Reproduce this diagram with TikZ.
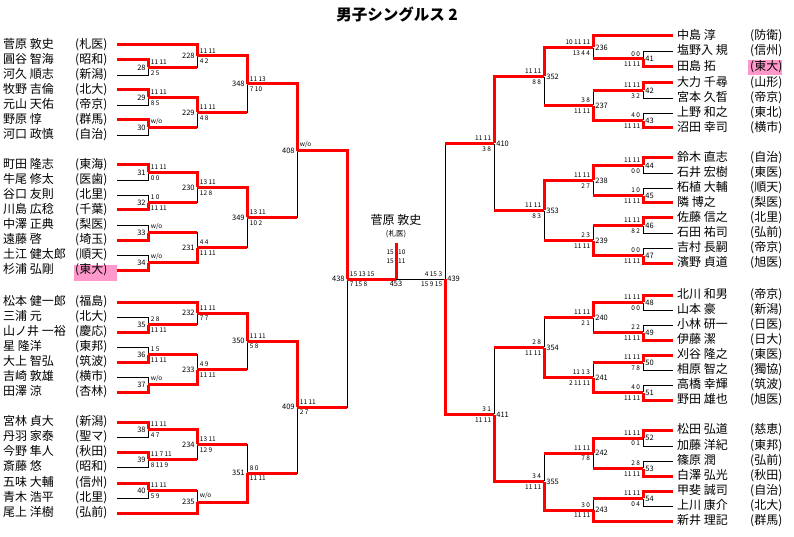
\documentclass[tikz,border=0pt]{standalone}
\usepackage{fontspec}
\setmainfont{Noto Sans CJK JP}
\usepackage{tikz}
\definecolor{brred}{RGB}{255,0,0}
\definecolor{hlpink}{RGB}{255,153,204}

\begin{document}
\begin{tikzpicture}[x=1pt,y=-1pt,
	win/.style={brred,line width=3pt},
	lose/.style={black,line width=0.9pt},
	lp/.style={anchor=west,inner sep=0pt,font=\fontsize{12}{12}\selectfont},
	mt/.style={inner sep=0pt,minimum size=0pt},
	mno/.style={font=\fontsize{7.5}{7.5}\selectfont,inner sep=2pt},
	sc/.style={font=\fontsize{6.5}{6.5}\selectfont,inner sep=2.5pt},
	hlbox/.style={fill=hlpink,inner sep=0pt}]
	\useasboundingbox (0,0) rectangle (794,537);
	\node[font=\fontsize{15.5}{15.5}\selectfont\bfseries] (title) at (397,14) {男子シングルス 2};
	\node[hlbox,minimum width=43pt,minimum height=16pt] (hl1) at (95.5,273) {};
	\node[hlbox,minimum width=34pt,minimum height=15pt] (hl2) at (765,68) {};
	% left players
	\node[lp] (p01) at (3,45) {\makebox[114pt][l]{\makebox[72pt][l]{菅原 敦史}(札医)}};
	\node[lp] (p02) at (3,60) {\makebox[114pt][l]{\makebox[72pt][l]{圓谷 智海}(昭和)}};
	\node[lp] (p03) at (3,75) {\makebox[114pt][l]{\makebox[72pt][l]{河久 順志}(新潟)}};
	\node[lp] (p04) at (3,90) {\makebox[114pt][l]{\makebox[72pt][l]{牧野 吉倫}(北大)}};
	\node[lp] (p05) at (3,105) {\makebox[114pt][l]{\makebox[72pt][l]{元山 天佑}(帝京)}};
	\node[lp] (p06) at (3,120) {\makebox[114pt][l]{\makebox[72pt][l]{野原 惇}(群馬)}};
	\node[lp] (p07) at (3,135) {\makebox[114pt][l]{\makebox[72pt][l]{河口 政慎}(自治)}};
	\node[lp] (p08) at (3,165) {\makebox[114pt][l]{\makebox[72pt][l]{町田 隆志}(東海)}};
	\node[lp] (p09) at (3,180) {\makebox[114pt][l]{\makebox[72pt][l]{牛尾 修太}(医歯)}};
	\node[lp] (p10) at (3,195) {\makebox[114pt][l]{\makebox[72pt][l]{谷口 友則}(北里)}};
	\node[lp] (p11) at (3,210) {\makebox[114pt][l]{\makebox[72pt][l]{川島 広稔}(千葉)}};
	\node[lp] (p12) at (3,225) {\makebox[114pt][l]{\makebox[72pt][l]{中澤 正典}(梨医)}};
	\node[lp] (p13) at (3,240) {\makebox[114pt][l]{\makebox[72pt][l]{遠藤 啓}(埼玉)}};
	\node[lp] (p14) at (3,255) {\makebox[114pt][l]{\makebox[72pt][l]{土江 健太郎}(順天)}};
	\node[lp] (p15) at (3,270) {\makebox[114pt][l]{\makebox[72pt][l]{杉浦 弘剛}(東大)}};
	\node[lp] (p16) at (3,302) {\makebox[114pt][l]{\makebox[72pt][l]{松本 健一郎}(福島)}};
	\node[lp] (p17) at (3,317) {\makebox[114pt][l]{\makebox[72pt][l]{三浦 元}(北大)}};
	\node[lp] (p18) at (3,332) {\makebox[114pt][l]{\makebox[72pt][l]{山ノ井 一裕}(慶応)}};
	\node[lp] (p19) at (3,347) {\makebox[114pt][l]{\makebox[72pt][l]{星 隆洋}(東邦)}};
	\node[lp] (p20) at (3,362) {\makebox[114pt][l]{\makebox[72pt][l]{大上 智弘}(筑波)}};
	\node[lp] (p21) at (3,377) {\makebox[114pt][l]{\makebox[72pt][l]{吉崎 敦雄}(横市)}};
	\node[lp] (p22) at (3,392) {\makebox[114pt][l]{\makebox[72pt][l]{田澤 涼}(杏林)}};
	\node[lp] (p23) at (3,422) {\makebox[114pt][l]{\makebox[72pt][l]{宮林 貞大}(新潟)}};
	\node[lp] (p24) at (3,437) {\makebox[114pt][l]{\makebox[72pt][l]{丹羽 家泰}(聖マ)}};
	\node[lp] (p25) at (3,452) {\makebox[114pt][l]{\makebox[72pt][l]{今野 隼人}(秋田)}};
	\node[lp] (p26) at (3,467) {\makebox[114pt][l]{\makebox[72pt][l]{斎藤 悠}(昭和)}};
	\node[lp] (p27) at (3,483) {\makebox[114pt][l]{\makebox[72pt][l]{五味 大輔}(信州)}};
	\node[lp] (p28) at (3,498) {\makebox[114pt][l]{\makebox[72pt][l]{青木 浩平}(北里)}};
	\node[lp] (p29) at (3,513) {\makebox[114pt][l]{\makebox[72pt][l]{尾上 洋樹}(弘前)}};
	% right players
	\node[lp] (q01) at (673,36) {\hspace*{4pt}\makebox[73pt][l]{中島 淳}(防衛)};
	\node[lp] (q02) at (673,51) {\hspace*{4pt}\makebox[73pt][l]{塩野入 規}(信州)};
	\node[lp] (q03) at (673,67) {\hspace*{4pt}\makebox[73pt][l]{田島 拓}(東大)};
	\node[lp] (q04) at (673,83) {\hspace*{4pt}\makebox[73pt][l]{大力 千尋}(山形)};
	\node[lp] (q05) at (673,98) {\hspace*{4pt}\makebox[73pt][l]{宮本 久晳}(帝京)};
	\node[lp] (q06) at (673,113) {\hspace*{4pt}\makebox[73pt][l]{上野 和之}(東北)};
	\node[lp] (q07) at (673,128) {\hspace*{4pt}\makebox[73pt][l]{沼田 幸司}(横市)};
	\node[lp] (q08) at (673,158) {\hspace*{4pt}\makebox[73pt][l]{鈴木 直志}(自治)};
	\node[lp] (q09) at (673,173) {\hspace*{4pt}\makebox[73pt][l]{石井 宏樹}(東医)};
	\node[lp] (q10) at (673,188) {\hspace*{4pt}\makebox[73pt][l]{柘植 大輔}(順天)};
	\node[lp] (q11) at (673,203) {\hspace*{4pt}\makebox[73pt][l]{隣 博之}(梨医)};
	\node[lp] (q12) at (673,218) {\hspace*{4pt}\makebox[73pt][l]{佐藤 信之}(北里)};
	\node[lp] (q13) at (673,233) {\hspace*{4pt}\makebox[73pt][l]{石田 祐司}(弘前)};
	\node[lp] (q14) at (673,248) {\hspace*{4pt}\makebox[73pt][l]{吉村 長嗣}(帝京)};
	\node[lp] (q15) at (673,263) {\hspace*{4pt}\makebox[73pt][l]{濱野 貞道}(旭医)};
	\node[lp] (q16) at (673,295) {\hspace*{4pt}\makebox[73pt][l]{北川 和男}(帝京)};
	\node[lp] (q17) at (673,310) {\hspace*{4pt}\makebox[73pt][l]{山本 豪}(新潟)};
	\node[lp] (q18) at (673,325) {\hspace*{4pt}\makebox[73pt][l]{小林 研一}(日医)};
	\node[lp] (q19) at (673,340) {\hspace*{4pt}\makebox[73pt][l]{伊藤 潔}(日大)};
	\node[lp] (q20) at (673,355) {\hspace*{4pt}\makebox[73pt][l]{刈谷 隆之}(東医)};
	\node[lp] (q21) at (673,370) {\hspace*{4pt}\makebox[73pt][l]{相原 智之}(獨協)};
	\node[lp] (q22) at (673,385) {\hspace*{4pt}\makebox[73pt][l]{高橋 幸輝}(筑波)};
	\node[lp] (q23) at (673,400) {\hspace*{4pt}\makebox[73pt][l]{野田 雄也}(旭医)};
	\node[lp] (q24) at (673,430) {\hspace*{4pt}\makebox[73pt][l]{松田 弘道}(慈恵)};
	\node[lp] (q25) at (673,446) {\hspace*{4pt}\makebox[73pt][l]{加藤 洋紀}(東邦)};
	\node[lp] (q26) at (673,461) {\hspace*{4pt}\makebox[73pt][l]{篠原 潤}(弘前)};
	\node[lp] (q27) at (673,476) {\hspace*{4pt}\makebox[73pt][l]{白澤 弘光}(秋田)};
	\node[lp] (q28) at (673,491) {\hspace*{4pt}\makebox[73pt][l]{甲斐 誠司}(自治)};
	\node[lp] (q29) at (673,506) {\hspace*{4pt}\makebox[73pt][l]{上川 康介}(北大)};
	\node[lp] (q30) at (673,521) {\hspace*{4pt}\makebox[73pt][l]{新井 理記}(群馬)};
	% left matches
	\node[mt,label={[mno]left:28},label={[sc]above right:11 11},label={[sc]below right:2 5}] (m28) at (148,67.5) {};
	\node[mt,label={[mno]left:29},label={[sc]above right:11 11},label={[sc]below right:8 5}] (m29) at (148,97.5) {};
	\node[mt,label={[mno]left:30},label={[sc]above right:w/o}] (m30) at (148,127.5) {};
	\node[mt,label={[mno]left:228},label={[sc]above right:11 11},label={[sc]below right:4 2}] (m228) at (197,56) {};
	\node[mt,label={[mno]left:229},label={[sc]above right:11 11},label={[sc]below right:4 8}] (m229) at (197,112.5) {};
	\node[mt,label={[mno]left:348},label={[sc]above right:11 13},label={[sc]below right:7 10}] (m348) at (247,84) {};
	\node[mt,label={[mno]left:31},label={[sc]above right:11 11},label={[sc]below right:0 0}] (m31) at (148,172.5) {};
	\node[mt,label={[mno]left:32},label={[sc]above right:1 0},label={[sc]below right:11 11}] (m32) at (148,202.5) {};
	\node[mt,label={[mno]left:33},label={[sc]above right:w/o}] (m33) at (148,232.5) {};
	\node[mt,label={[mno]left:34},label={[sc]above right:w/o}] (m34) at (148,262.5) {};
	\node[mt,label={[mno]left:230},label={[sc]above right:13 11},label={[sc]below right:12 8}] (m230) at (197,187.5) {};
	\node[mt,label={[mno]left:231},label={[sc]above right:4 4},label={[sc]below right:11 11}] (m231) at (197,247.5) {};
	\node[mt,label={[mno]left:349},label={[sc]above right:13 11},label={[sc]below right:10 2}] (m349) at (247,217.5) {};
	\node[mt,label={[mno]left:408},label={[sc]above right:w/o}] (m408) at (297,151) {};
	\node[mt,label={[mno]left:35},label={[sc]above right:2 8},label={[sc]below right:11 11}] (m35) at (148,324.5) {};
	\node[mt,label={[mno]left:36},label={[sc]above right:1 5},label={[sc]below right:11 11}] (m36) at (148,354.5) {};
	\node[mt,label={[mno]left:37},label={[sc]above right:w/o}] (m37) at (148,384.5) {};
	\node[mt,label={[mno]left:232},label={[sc]above right:11 11},label={[sc]below right:7 7}] (m232) at (197,313) {};
	\node[mt,label={[mno]left:233},label={[sc]above right:4 9},label={[sc]below right:11 11}] (m233) at (197,369.5) {};
	\node[mt,label={[mno]left:350},label={[sc]above right:11 11},label={[sc]below right:5 8}] (m350) at (247,341) {};
	\node[mt,label={[mno]left:38},label={[sc]above right:11 11},label={[sc]below right:4 7}] (m38) at (148,429.5) {};
	\node[mt,label={[mno]left:39},label={[sc]above right:11 7 11},label={[sc]below right:8 11 9}] (m39) at (148,459.5) {};
	\node[mt,label={[mno]left:40},label={[sc]above right:11 11},label={[sc]below right:5 9}] (m40) at (148,490.5) {};
	\node[mt,label={[mno]left:234},label={[sc]above right:13 11},label={[sc]below right:12 9}] (m234) at (197,444.5) {};
	\node[mt,label={[mno]left:235},label={[sc]above right:w/o}] (m235) at (197,502) {};
	\node[mt,label={[mno]left:351},label={[sc]above right:8 0},label={[sc]below right:11 11}] (m351) at (247,473) {};
	\node[mt,label={[mno]left:409},label={[sc]above right:11 11},label={[sc]below right:2 7}] (m409) at (297,407) {};
	\node[mt,label={[mno]left:438},label={[sc]above right:15 13 15},label={[sc]below right:7 15 8}] (m438) at (347,279) {};
	% right matches
	\node[mt,label={[mno]right:41},label={[sc]above left:0 0},label={[sc]below left:11 11}] (m41) at (643,59) {};
	\node[mt,label={[mno]right:42},label={[sc]above left:11 11},label={[sc]below left:3 2}] (m42) at (643,90.5) {};
	\node[mt,label={[mno]right:43},label={[sc]above left:4 0},label={[sc]below left:11 11}] (m43) at (643,120.5) {};
	\node[mt,label={[mno]right:236},label={[sc]above left:10 11 11},label={[sc]below left:13 4 4}] (m236) at (593,47.5) {};
	\node[mt,label={[mno]right:237},label={[sc]above left:3 8},label={[sc]below left:11 11}] (m237) at (593,105.5) {};
	\node[mt,label={[mno]right:352},label={[sc]above left:11 11},label={[sc]below left:8 8}] (m352) at (544,76.5) {};
	\node[mt,label={[mno]right:44},label={[sc]above left:11 11},label={[sc]below left:0 0}] (m44) at (643,165.5) {};
	\node[mt,label={[mno]right:45},label={[sc]above left:1 0},label={[sc]below left:11 11}] (m45) at (643,195.5) {};
	\node[mt,label={[mno]right:46},label={[sc]above left:11 11},label={[sc]below left:8 2}] (m46) at (643,225.5) {};
	\node[mt,label={[mno]right:47},label={[sc]above left:0 0},label={[sc]below left:11 11}] (m47) at (643,255.5) {};
	\node[mt,label={[mno]right:238},label={[sc]above left:11 11},label={[sc]below left:2 7}] (m238) at (593,180.5) {};
	\node[mt,label={[mno]right:239},label={[sc]above left:2 3},label={[sc]below left:11 11}] (m239) at (593,240.5) {};
	\node[mt,label={[mno]right:353},label={[sc]above left:11 11},label={[sc]below left:8 3}] (m353) at (544,210.5) {};
	\node[mt,label={[mno]right:410},label={[sc]above left:11 11},label={[sc]below left:3 8}] (m410) at (494,143.5) {};
	\node[mt,label={[mno]right:48},label={[sc]above left:11 11},label={[sc]below left:0 0}] (m48) at (643,302.5) {};
	\node[mt,label={[mno]right:49},label={[sc]above left:2 2},label={[sc]below left:11 11}] (m49) at (643,332.5) {};
	\node[mt,label={[mno]right:50},label={[sc]above left:11 11},label={[sc]below left:7 8}] (m50) at (643,362.5) {};
	\node[mt,label={[mno]right:51},label={[sc]above left:4 0},label={[sc]below left:11 11}] (m51) at (643,392.5) {};
	\node[mt,label={[mno]right:240},label={[sc]above left:11 11},label={[sc]below left:2 1}] (m240) at (593,317.5) {};
	\node[mt,label={[mno]right:241},label={[sc]above left:11 1 3},label={[sc]below left:2 11 11}] (m241) at (593,377.5) {};
	\node[mt,label={[mno]right:354},label={[sc]above left:2 8},label={[sc]below left:11 11}] (m354) at (544,347.5) {};
	\node[mt,label={[mno]right:52},label={[sc]above left:11 11},label={[sc]below left:0 1}] (m52) at (643,438) {};
	\node[mt,label={[mno]right:53},label={[sc]above left:2 8},label={[sc]below left:11 11}] (m53) at (643,468.5) {};
	\node[mt,label={[mno]right:54},label={[sc]above left:11 11},label={[sc]below left:0 4}] (m54) at (643,498.5) {};
	\node[mt,label={[mno]right:242},label={[sc]above left:11 11},label={[sc]below left:7 8}] (m242) at (593,453) {};
	\node[mt,label={[mno]right:243},label={[sc]above left:3 0},label={[sc]below left:11 11}] (m243) at (593,510) {};
	\node[mt,label={[mno]right:355},label={[sc]above left:3 4},label={[sc]below left:11 11}] (m355) at (544,481.5) {};
	\node[mt,label={[mno]right:411},label={[sc]above left:3 1},label={[sc]below left:11 11}] (m411) at (494,414.5) {};
	\node[mt,label={[mno]right:439},label={[sc]above left:4 15 3},label={[sc]below left:15 9 15}] (m439) at (445,279) {};
	% final
	\node[mt,label={[mno]below:453}] (m453) at (396,279) {};
	\coordinate (crown) at (396,243);
	\node[lp,anchor=center] (champ) at (396,220) {菅原 敦史};
	\node[mno] (champaff) at (396,234) {(札医)};
	\node[sc,anchor=east,inner sep=1pt] (fs1) at (395,252) {15};
	\node[sc,anchor=west,inner sep=1pt] (fs2) at (397,252) {10};
	\node[sc,anchor=east,inner sep=1pt] (fs3) at (395,261) {15};
	\node[sc,anchor=west,inner sep=1pt] (fs4) at (397,261) {11};
	% losing arms
	\draw[lose] (p03.east) -| (m28);
	\draw[lose] (p05.east) -| (m29);
	\draw[lose] (p07.east) -| (m30);
	\draw[lose] (m28) -| (m228);
	\draw[lose] (m30) -| (m229);
	\draw[lose] (m229) -| (m348);
	\draw[lose] (p09.east) -| (m31);
	\draw[lose] (p10.east) -| (m32);
	\draw[lose] (p12.east) -| (m33);
	\draw[lose] (p14.east) -| (m34);
	\draw[lose] (m32) -| (m230);
	\draw[lose] (m33) -| (m231);
	\draw[lose] (m231) -| (m349);
	\draw[lose] (m349) -| (m408);
	\draw[lose] (p17.east) -| (m35);
	\draw[lose] (m35) -| (m232);
	\draw[lose] (p19.east) -| (m36);
	\draw[lose] (p21.east) -| (m37);
	\draw[lose] (m36) -| (m233);
	\draw[lose] (m233) -| (m350);
	\draw[lose] (p24.east) -| (m38);
	\draw[lose] (p26.east) -| (m39);
	\draw[lose] (p28.east) -| (m40);
	\draw[lose] (m39) -| (m234);
	\draw[lose] (m40) -| (m235);
	\draw[lose] (m234) -| (m351);
	\draw[lose] (m351) -| (m409);
	\draw[lose] (m409) -| (m438);
	\draw[lose] (q02.west) -| (m41);
	\draw[lose] (m41) -| (m236);
	\draw[lose] (q05.west) -| (m42);
	\draw[lose] (q06.west) -| (m43);
	\draw[lose] (m42) -| (m237);
	\draw[lose] (m237) -| (m352);
	\draw[lose] (q09.west) -| (m44);
	\draw[lose] (q10.west) -| (m45);
	\draw[lose] (m45) -| (m238);
	\draw[lose] (q13.west) -| (m46);
	\draw[lose] (q14.west) -| (m47);
	\draw[lose] (m46) -| (m239);
	\draw[lose] (m239) -| (m353);
	\draw[lose] (m353) -| (m410);
	\draw[lose] (q17.west) -| (m48);
	\draw[lose] (q18.west) -| (m49);
	\draw[lose] (m49) -| (m240);
	\draw[lose] (q21.west) -| (m50);
	\draw[lose] (q22.west) -| (m51);
	\draw[lose] (m50) -| (m241);
	\draw[lose] (m240) -| (m354);
	\draw[lose] (q25.west) -| (m52);
	\draw[lose] (q26.west) -| (m53);
	\draw[lose] (m53) -| (m242);
	\draw[lose] (q29.west) -| (m54);
	\draw[lose] (m54) -| (m243);
	\draw[lose] (m242) -| (m355);
	\draw[lose] (m354) -| (m411);
	\draw[lose] (m410) -| (m439);
	\draw[lose] (m439) -- (m453);
	% outputs of beaten winners
	\draw[win] (m28) -- (m28 -| m228);
	\draw[win] (m30) -- (m30 -| m229);
	\draw[win] (m229) -- (m229 -| m348);
	\draw[win] (m32) -- (m32 -| m230);
	\draw[win] (m33) -- (m33 -| m231);
	\draw[win] (m231) -- (m231 -| m349);
	\draw[win] (m349) -- (m349 -| m408);
	\draw[win] (m35) -- (m35 -| m232);
	\draw[win] (m36) -- (m36 -| m233);
	\draw[win] (m233) -- (m233 -| m350);
	\draw[win] (m39) -- (m39 -| m234);
	\draw[win] (m40) -- (m40 -| m235);
	\draw[win] (m234) -- (m234 -| m351);
	\draw[win] (m351) -- (m351 -| m409);
	\draw[win] (m409) -- (m409 -| m438);
	\draw[win] (m41) -- (m41 -| m236);
	\draw[win] (m42) -- (m42 -| m237);
	\draw[win] (m237) -- (m237 -| m352);
	\draw[win] (m45) -- (m45 -| m238);
	\draw[win] (m46) -- (m46 -| m239);
	\draw[win] (m239) -- (m239 -| m353);
	\draw[win] (m353) -- (m353 -| m410);
	\draw[win] (m49) -- (m49 -| m240);
	\draw[win] (m50) -- (m50 -| m241);
	\draw[win] (m240) -- (m240 -| m354);
	\draw[win] (m53) -- (m53 -| m242);
	\draw[win] (m54) -- (m54 -| m243);
	\draw[win] (m242) -- (m242 -| m355);
	\draw[win] (m354) -- (m354 -| m411);
	\draw[win] (m410) -- (m410 -| m439);
	% winning arms
	\draw[win] (p02.east) -| (m28);
	\draw[win] (p04.east) -| (m29);
	\draw[win] (p06.east) -| (m30);
	\draw[win] (p01.east) -| (m228);
	\draw[win] (m29) -| (m229);
	\draw[win] (m228) -| (m348);
	\draw[win] (p08.east) -| (m31);
	\draw[win] (p11.east) -| (m32);
	\draw[win] (p13.east) -| (m33);
	\draw[win] (p15.east) -| (m34);
	\draw[win] (m31) -| (m230);
	\draw[win] (m34) -| (m231);
	\draw[win] (m230) -| (m349);
	\draw[win] (m348) -| (m408);
	\draw[win] (p18.east) -| (m35);
	\draw[win] (p16.east) -| (m232);
	\draw[win] (p20.east) -| (m36);
	\draw[win] (p22.east) -| (m37);
	\draw[win] (m37) -| (m233);
	\draw[win] (m232) -| (m350);
	\draw[win] (p23.east) -| (m38);
	\draw[win] (p25.east) -| (m39);
	\draw[win] (p27.east) -| (m40);
	\draw[win] (m38) -| (m234);
	\draw[win] (p29.east) -| (m235);
	\draw[win] (m235) -| (m351);
	\draw[win] (m350) -| (m409);
	\draw[win] (m408) -| (m438);
	\draw[win] (q03.west) -| (m41);
	\draw[win] (q01.west) -| (m236);
	\draw[win] (q04.west) -| (m42);
	\draw[win] (q07.west) -| (m43);
	\draw[win] (m43) -| (m237);
	\draw[win] (m236) -| (m352);
	\draw[win] (q08.west) -| (m44);
	\draw[win] (q11.west) -| (m45);
	\draw[win] (m44) -| (m238);
	\draw[win] (q12.west) -| (m46);
	\draw[win] (q15.west) -| (m47);
	\draw[win] (m47) -| (m239);
	\draw[win] (m238) -| (m353);
	\draw[win] (m352) -| (m410);
	\draw[win] (q16.west) -| (m48);
	\draw[win] (q19.west) -| (m49);
	\draw[win] (m48) -| (m240);
	\draw[win] (q20.west) -| (m50);
	\draw[win] (q23.west) -| (m51);
	\draw[win] (m51) -| (m241);
	\draw[win] (m241) -| (m354);
	\draw[win] (q24.west) -| (m52);
	\draw[win] (q27.west) -| (m53);
	\draw[win] (m52) -| (m242);
	\draw[win] (q28.west) -| (m54);
	\draw[win] (q30.west) -| (m243);
	\draw[win] (m243) -| (m355);
	\draw[win] (m355) -| (m411);
	\draw[win] (m411) -| (m439);
	\draw[win] (m438) -- (m453);
	\draw[win] (m453) -- (crown);
\end{tikzpicture}
\end{document}
